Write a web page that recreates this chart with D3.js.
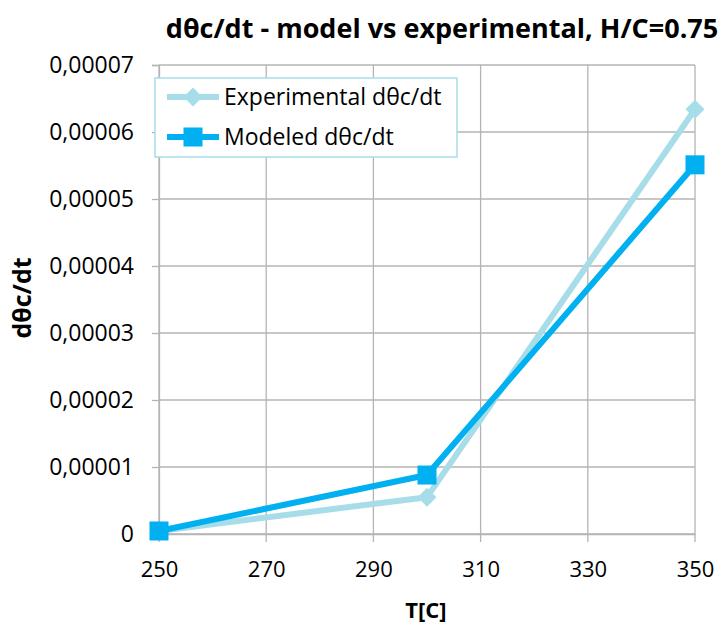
<!DOCTYPE html>
<html>
<head>
<meta charset="utf-8">
<script src="https://cdn.jsdelivr.net/npm/d3@7"></script>
<style>
  html, body { margin: 0; padding: 0; background: #fff; }
  svg { display: block; font-family: "Open Sans", "Noto Sans", sans-serif; }
</style>
</head>
<body>
<svg id="chart" width="726" height="623"></svg>
<script>
// Temperatures (°C) and rates
const temps = [250, 300, 350];
const experimental = [0.00000045, 0.0000055, 0.0000634];
const modeled = [0.00000045, 0.0000088, 0.0000551];
const xTicks = [250, 270, 290, 310, 330, 350];
const yTicks = [0, 0.00001, 0.00002, 0.00003, 0.00004, 0.00005, 0.00006, 0.00007];
const seriesNames = ["Experimental d\u03B8c/dt", "Modeled d\u03B8c/dt"];
const seriesColors = ["#A6DDE9", "#00B0F0"];

const svg = d3.select("#chart");
const x = d3.scaleLinear().domain([250, 350]).range([159, 695]);
const y = d3.scaleLinear().domain([0, 0.00007]).range([534, 65]);

const fmt = v => v === 0 ? "0" : v.toFixed(5).replace(".", ",");

// Grid lines
svg.append("g").selectAll("line").data(yTicks).join("line")
  .attr("x1", x(250)).attr("x2", x(350))
  .attr("y1", d => y(d)).attr("y2", d => y(d))
  .attr("stroke", "#B4B4B4").attr("stroke-width", 1.3);
svg.append("g").selectAll("line").data(xTicks).join("line")
  .attr("x1", d => x(d)).attr("x2", d => x(d))
  .attr("y1", y(0.00007)).attr("y2", y(0) + 8)
  .attr("stroke", "#B4B4B4").attr("stroke-width", 1.3);

// Axes
const xAxis = d3.axisBottom(x).tickValues(xTicks).tickSize(0).tickPadding(27);
const gx = svg.append("g").attr("transform", `translate(0,${y(0)})`).call(xAxis);
gx.select(".domain").attr("stroke", "#B4B4B4").attr("stroke-width", 1.3);
gx.selectAll("text").attr("font-size", 22).attr("fill", "#000")
  .attr("font-family", "'Open Sans', sans-serif");

const yAxis = d3.axisLeft(y).tickValues(yTicks).tickFormat(fmt).tickSize(7).tickPadding(18);
const gy = svg.append("g").attr("transform", `translate(${x(250)},0)`).call(yAxis);
gy.select(".domain").attr("stroke", "#B4B4B4").attr("stroke-width", 1.3);
gy.selectAll(".tick line").attr("stroke", "#B4B4B4").attr("stroke-width", 1.3);
gy.selectAll("text").attr("font-size", 23).attr("fill", "#000")
  .attr("font-family", "'Open Sans', sans-serif");

// Series
const line = d3.line().x((d, i) => x(temps[i])).y(d => y(d));

svg.append("path").datum(experimental).attr("d", line)
  .attr("fill", "none").attr("stroke", seriesColors[0]).attr("stroke-width", 6)
  .attr("stroke-linejoin", "round");
svg.append("g").selectAll("path").data(experimental).join("path")
  .attr("d", d3.symbol().type(d3.symbolSquare).size(180))
  .attr("transform", (d, i) => `translate(${x(temps[i])},${y(d)}) rotate(45)`)
  .attr("fill", seriesColors[0]);

svg.append("path").datum(modeled).attr("d", line)
  .attr("fill", "none").attr("stroke", seriesColors[1]).attr("stroke-width", 6)
  .attr("stroke-linejoin", "round");
svg.append("g").selectAll("rect").data(modeled).join("rect")
  .attr("x", (d, i) => x(temps[i]) - 9.5).attr("y", d => y(d) - 9.5)
  .attr("width", 19).attr("height", 19)
  .attr("fill", seriesColors[1]);

// Legend
const lg = svg.append("g");
lg.append("rect").attr("x", 155).attr("y", 78).attr("width", 302).attr("height", 79)
  .attr("fill", "#fff").attr("stroke", "#A6DDE9").attr("stroke-width", 1.5);
const rows = [97, 137];
seriesNames.forEach((name, i) => {
  lg.append("line").attr("x1", 167).attr("x2", 219).attr("y1", rows[i]).attr("y2", rows[i])
    .attr("stroke", seriesColors[i]).attr("stroke-width", 6);
  if (i === 0) {
    lg.append("path").attr("d", d3.symbol().type(d3.symbolSquare).size(180))
      .attr("transform", `translate(193,${rows[i]}) rotate(45)`).attr("fill", seriesColors[i]);
  } else {
    lg.append("rect").attr("x", 193 - 9.5).attr("y", rows[i] - 9.5)
      .attr("width", 19).attr("height", 19).attr("fill", seriesColors[i]);
  }
  lg.append("text").attr("x", 224).attr("y", rows[i]).attr("dy", "0.35em")
    .attr("font-size", 23).attr("fill", "#000").text(name);
});

// Titles
svg.append("text").attr("x", 442).attr("y", 29).attr("dy", "0.35em")
  .attr("text-anchor", "middle").attr("font-size", 27).attr("font-weight", "bold")
  .text("d\u03B8c/dt - model vs experimental, H/C=0.75");
svg.append("text").attr("x", 426).attr("y", 610).attr("dy", "0.35em")
  .attr("text-anchor", "middle").attr("font-size", 22).attr("font-weight", "bold")
  .text("T[C]");
svg.append("text").attr("transform", "translate(22,298) rotate(-90)").attr("dy", "0.35em")
  .attr("text-anchor", "middle").attr("font-size", 25).attr("font-weight", "bold")
  .text("d\u03B8c/dt");
</script>
</body>
</html>
